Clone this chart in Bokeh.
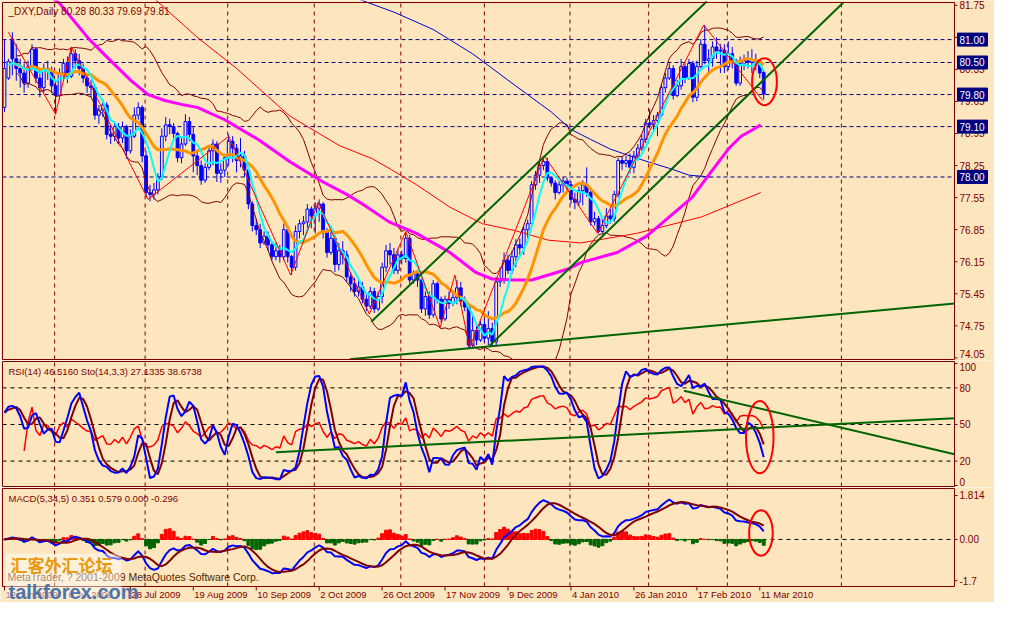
import numpy as np
from bokeh.plotting import figure
from bokeh.layouts import column
from bokeh.models import Range1d
from bokeh.core.properties import value
from bokeh.embed import file_html
from bokeh.resources import INLINE

# ---------------- data ----------------
opens = [79.52,80.16,81.01,80.58,80.37,80.27,80.05,80.41,80.79,80.16,
         79.95,80.37,80.33,79.99,79.78,80.27,80.48,80.20,80.69,80.54,
         80.37,80.16,79.99,79.95,79.35,79.46,79.57,78.93,78.89,79.10,
         78.85,79.10,78.57,78.89,79.35,79.52,78.46,77.66,77.62,77.72,
         78.00,78.89,79.14,79.10,78.95,78.42,78.72,79.21,78.93,78.46,
         78.25,77.93,78.21,78.57,78.72,78.08,78.15,78.42,78.78,78.63,
         78.36,78.46,78.15,77.41,76.94,76.85,76.56,76.71,76.52,76.26,
         76.39,76.26,76.85,76.26,76.03,76.81,76.98,77.02,77.30,77.15,
         77.32,77.41,76.81,76.35,76.66,76.09,76.39,76.30,75.82,75.67,
         75.50,75.60,75.33,75.18,75.50,75.12,75.39,76.03,76.39,76.30,
         75.96,76.30,76.22,76.66,75.75,75.88,75.75,75.12,75.39,74.99,
         75.67,75.33,74.90,75.33,75.24,75.37,75.58,75.29,75.16,74.33,
         74.65,74.44,74.78,74.48,74.69,74.40,75.71,75.75,76.18,75.96,
         76.26,76.52,76.45,76.85,76.98,77.83,78.04,78.25,78.34,77.98,
         77.87,77.66,77.83,77.91,77.83,77.51,77.45,77.70,77.83,77.66,
         77.02,77.09,76.81,76.94,77.15,77.09,77.62,78.36,78.30,78.36,
         78.21,78.46,78.63,78.82,79.18,79.14,79.23,79.35,79.95,80.16,
         80.37,79.78,79.99,80.41,80.16,80.48,79.74,80.41,80.90,80.54,
         80.58,80.84,80.75,80.77,80.41,80.69,80.54,80.05,80.48,80.54,
         80.50,80.54,80.46,80.28]
highs = [81.01,80.58,81.16,80.90,80.58,80.48,80.54,80.90,80.84,80.37,
         80.48,80.54,80.41,80.12,80.37,80.58,80.63,80.84,80.79,80.69,
         80.48,80.24,80.12,80.01,79.57,79.69,79.63,79.14,79.21,79.18,
         79.21,79.14,79.04,79.52,79.63,79.57,78.57,77.83,77.87,78.08,
         79.06,79.31,79.27,79.18,78.99,78.85,79.37,79.31,79.10,78.57,
         78.36,78.30,78.68,78.82,78.78,78.30,78.51,78.93,78.89,78.72,
         78.85,78.57,78.21,77.47,77.09,76.98,76.81,76.81,76.60,76.56,
         76.52,76.98,76.94,76.30,76.94,77.07,77.15,77.41,77.36,77.45,
         77.51,77.45,76.88,76.81,76.73,76.56,76.60,76.39,75.92,75.80,
         75.75,75.71,75.43,75.60,75.58,75.50,76.13,76.52,76.56,76.45,
         76.43,76.39,76.81,76.73,75.96,75.96,75.82,75.50,75.50,75.75,
         75.71,75.39,75.41,75.50,75.50,75.75,75.71,75.39,75.24,74.97,
         74.80,74.86,74.90,75.07,74.82,75.82,76.03,76.35,76.30,76.39,
         76.64,76.66,76.94,77.07,77.91,78.13,78.36,78.46,78.42,78.00,
         77.93,77.91,78.00,77.98,77.91,77.66,77.79,77.93,78.21,77.72,
         77.24,77.15,77.11,77.32,77.30,77.70,78.42,78.46,78.46,78.51,
         78.57,78.72,78.93,79.27,79.48,79.35,79.42,80.03,80.27,80.48,
         80.44,80.12,80.58,80.48,80.58,80.54,80.54,81.01,81.32,80.79,
         80.96,81.05,80.90,80.90,80.96,80.84,80.58,80.63,80.67,80.75,
         80.79,80.69,80.54,80.33]
lows = [79.42,80.12,80.22,80.10,79.95,79.84,79.95,80.33,80.05,79.74,
        79.84,80.12,79.84,79.37,79.69,80.16,80.05,80.16,80.37,80.22,
        80.05,79.84,79.74,79.25,79.16,79.31,78.82,78.72,78.78,78.72,
        78.74,78.40,78.51,78.85,79.25,78.32,77.55,77.47,77.51,77.62,
        77.93,78.78,78.93,78.85,78.32,78.30,78.68,78.78,78.10,78.04,
        77.83,77.87,78.15,78.25,77.89,77.87,78.00,78.25,78.32,78.10,
        78.21,78.00,77.30,76.81,76.73,76.45,76.52,76.39,76.18,76.18,
        76.13,76.18,76.13,75.86,75.96,76.66,76.73,76.81,76.88,76.77,
        77.02,76.66,76.24,76.30,75.92,75.96,76.09,75.71,75.50,75.39,
        75.39,75.24,75.07,75.12,75.03,75.07,75.24,75.92,76.09,75.88,
        75.88,76.09,76.13,75.67,75.67,75.60,75.03,74.97,74.90,74.93,
        75.24,74.82,74.86,75.12,75.18,75.22,75.18,75.07,74.27,74.27,
        74.33,74.40,74.38,74.33,74.31,74.33,75.60,75.67,75.88,75.88,
        76.03,76.30,76.30,76.60,76.90,77.72,77.87,78.15,77.91,77.79,
        77.51,77.62,77.66,77.66,77.41,77.30,77.36,77.38,77.57,76.94,
        76.94,76.77,76.77,76.88,76.98,77.02,77.55,78.15,78.21,78.08,
        78.08,78.36,78.57,78.74,79.06,78.99,78.89,79.31,79.84,80.12,
        79.69,79.74,79.91,80.05,80.12,79.63,79.65,80.37,80.46,80.24,
        80.41,80.58,80.27,80.27,80.33,80.37,79.99,79.99,80.33,80.37,
        80.27,80.33,80.16,79.69]
closes = [80.37,80.52,80.58,80.37,80.27,80.05,80.41,80.79,80.16,79.95,
          80.37,80.33,79.99,79.78,80.27,80.48,80.20,80.69,80.54,80.37,
          80.16,79.99,79.95,79.35,79.46,79.57,78.93,78.89,79.10,78.85,
          79.10,78.57,78.89,79.35,79.52,78.46,77.66,77.62,77.72,78.00,
          78.89,79.14,79.10,78.95,78.42,78.72,79.21,78.93,78.46,78.25,
          77.93,78.21,78.57,78.72,78.08,78.15,78.42,78.78,78.63,78.36,
          78.46,78.15,77.41,76.94,76.85,76.56,76.71,76.52,76.26,76.39,
          76.26,76.85,76.26,76.03,76.81,76.98,77.02,77.30,77.15,77.32,
          77.41,76.81,76.35,76.66,76.09,76.39,76.30,75.82,75.67,75.50,
          75.60,75.33,75.18,75.50,75.12,75.39,76.03,76.39,76.30,75.96,
          76.30,76.22,76.66,75.75,75.88,75.75,75.12,75.39,74.99,75.67,
          75.33,74.90,75.33,75.24,75.37,75.58,75.29,75.16,74.33,74.65,
          74.44,74.78,74.48,74.69,74.40,75.71,75.75,76.18,75.96,76.26,
          76.52,76.45,76.85,76.98,77.83,78.04,78.25,78.34,77.98,77.87,
          77.66,77.83,77.91,77.83,77.51,77.45,77.70,77.83,77.66,77.02,
          77.09,76.81,76.94,77.15,77.09,77.62,78.36,78.30,78.36,78.21,
          78.46,78.63,78.82,79.18,79.14,79.23,79.35,79.95,80.16,80.37,
          79.78,79.99,80.41,80.16,80.48,79.74,80.41,80.90,80.54,80.58,
          80.84,80.75,80.77,80.41,80.69,80.54,80.05,80.48,80.54,80.50,
          80.54,80.46,80.27,79.81]

date_ticks = [0, 16, 32, 48, 64, 80, 96, 112, 128, 144, 160, 176, 192]
date_labels = ["12 Jun 2009", "6 Jul 2009", "28 Jul 2009", "19 Aug 2009",
               "10 Sep 2009", "2 Oct 2009", "26 Oct 2009", "17 Nov 2009",
               "9 Dec 2009", "4 Jan 2010", "26 Jan 2010", "17 Feb 2010",
               "11 Mar 2010"]
grid_bars = [12.75, 35.75, 56.75, 78.75, 100.75, 122.0, 143.75, 163.75, 183.75, 212.75]
price_ticks = [74.05, 74.75, 75.45, 76.15, 76.85, 77.55, 78.25, 78.95,
               79.65, 80.35, 81.05, 81.75]
levels = [81.00, 80.50, 79.80, 79.10, 78.00]
rsi_ticks = [0, 20, 50, 80, 100]
rsi_levels = [20, 50, 80]
macd_ticks = [-1.7, 0.0, 1.814]
macd_tick_labels = ["-1.7", "0.00", "1.814"]

# long moving averages (bar index, price)
magenta_bars = [12, 14, 21.5, 26.5, 32.25, 36.5, 40.75, 45.75, 49, 56, 64.5, 72.75,
                81, 87, 91, 97.75, 104.75, 113.25, 119.75, 124, 129.75, 134,
                138.25, 143.25, 146.5, 155.75, 163.25, 169, 174.75, 179, 184,
                187.25, 190.75, 192.25]
magenta_vals = [81.92, 81.79, 81.01, 80.58, 80.10, 79.80, 79.67, 79.57, 79.52, 79.25,
                78.82, 78.32, 77.89, 77.62, 77.41, 77.02, 76.77, 76.35, 75.92, 75.77,
                75.75, 75.75, 75.86, 75.99, 76.13, 76.35, 76.71, 77.13, 77.55, 78.04,
                78.61, 78.89, 79.06, 79.14]
blue_bars = [89.5, 99, 109, 119, 129, 139, 144, 149, 154, 159, 164, 169, 174, 179.5]
blue_vals = [81.90, 81.60, 81.22, 80.69, 80.05, 79.42, 79.04, 78.82, 78.61, 78.46,
             78.32, 78.19, 78.04, 78.00]
red_bars = [37.75, 49, 59, 72.25, 77, 85.25, 93.5, 97.75, 104.75, 113.25, 121.5,
            129.75, 138.25, 146.5, 160.75, 177.25, 192.25]
red_vals = [81.92, 81.05, 80.37, 79.35, 79.10, 78.68, 78.40, 78.19, 77.83, 77.34,
            76.98, 76.83, 76.62, 76.56, 76.77, 77.13, 77.66]
zigzag_bars = [1, 13, 17, 36.5, 57, 72.75, 79.75, 92.75, 102, 110.75, 114.5,
               118.25, 137.25, 150.75, 177.75, 192.75]
zigzag_vals = [81.16, 79.37, 80.84, 77.51, 78.89, 75.86, 77.45, 75.01, 76.81, 74.71,
               75.86, 74.27, 78.46, 76.77, 81.32, 79.67]

# trend lines (bar index, value)
upper_channel_bars = [93.25, 178.5]
upper_channel_vals = [74.84, 81.83]
lower_channel_bars = [123.25, 213.25]
lower_channel_vals = [74.31, 81.81]
support_bars = [87.75, 241.5]
support_vals = [74.02, 75.24]
rsi_up_bars = [69, 241.5]
rsi_up_vals = [27.2, 55.2]
rsi_down_bars = [172.75, 241.5]
rsi_down_vals = [77.6, 25.6]

# ---------------- indicators ----------------
o = np.array(opens); h = np.array(highs); l = np.array(lows); c = np.array(closes)
n = len(c)
xs = np.arange(n)


def sma(a, p, minp=1):
    out = np.full(len(a), np.nan)
    for i in range(len(a)):
        w = a[max(0, i - p + 1):i + 1]
        w = w[~np.isnan(w)]
        if len(w) >= minp:
            out[i] = w.mean()
    return out


def ema(a, p):
    k = 2.0 / (p + 1)
    out = np.empty(len(a))
    out[0] = a[0]
    for i in range(1, len(a)):
        out[i] = out[i - 1] + k * (a[i] - out[i - 1])
    return out


ma5 = sma(c, 5, 2)
ma13 = sma(c, 13, 3)
bb_mid = sma(c, 20, 4)
bb_std = np.array([c[max(0, i - 19):i + 1].std() if i >= 3 else np.nan for i in range(n)])
bb_up = bb_mid + 2 * bb_std
bb_dn = bb_mid - 2 * bb_std

d = np.diff(c, prepend=c[0])
g = np.clip(d, 0, None)
ls = np.clip(-d, 0, None)
ag = np.zeros(n); al = np.zeros(n)
for i in range(1, n):
    if i <= 14:
        ag[i] = g[1:i + 1].mean(); al[i] = ls[1:i + 1].mean()
    else:
        ag[i] = (ag[i - 1] * 13 + g[i]) / 14
        al[i] = (al[i - 1] * 13 + ls[i]) / 14
rsi = np.where(al > 0, 100 - 100 / (1 + ag / np.where(al > 0, al, 1)), 100.0)
rsi[:5] = np.nan

ll = np.array([l[max(0, i - 13):i + 1].min() for i in range(n)])
hh = np.array([h[max(0, i - 13):i + 1].max() for i in range(n)])
num = c - ll
den = hh - ll
stk = np.array([num[max(0, i - 2):i + 1].sum() / max(den[max(0, i - 2):i + 1].sum(), 1e-9) * 100
                for i in range(n)])
std_ = sma(stk, 3)

macd = ema(c, 5) - ema(c, 34)
macd_sig = sma(macd, 5)
macd_hist = macd - macd_sig

# ---------------- layout helpers ----------------
BG = "#FDE6BD"
MAROON = "#800000"
NAVY = "#000080"
FONT = "Liberation Sans"
W = 994
LEFT, FRAME_W, RIGHT = 2, 952, 40
X0, X1 = -0.5, 241.5
ppb = FRAME_W / (X1 - X0)
x_range = Range1d(X0 - LEFT / ppb, X1 + RIGHT / ppb)


def panel(height, vmin, vmax, top_px, bottom_px):
    ppy = (vmax - vmin) / (height - top_px - bottom_px)
    yr = Range1d(vmin - bottom_px * ppy, vmax + top_px * ppy)
    p = figure(width=W, height=height, x_range=x_range, y_range=yr,
               output_backend="svg", toolbar_location=None,
               x_axis_location=None, y_axis_location=None, min_border=0)
    p.min_border_left = p.min_border_right = p.min_border_top = p.min_border_bottom = 0
    p.outline_line_color = None
    p.background_fill_color = BG
    p.border_fill_color = BG
    p.grid.visible = False
    p.segment(x0=grid_bars, x1=grid_bars, y0=[vmin] * len(grid_bars),
              y1=[vmax] * len(grid_bars), line_color=MAROON, line_dash="4 4", line_width=1)
    return p, ppy


def txt(p, x, y, texts, size="10px", color=MAROON, align="left", baseline="middle",
        font=FONT, style="normal"):
    p.text(x=x, y=y, text=texts, text_font=value(font), text_font_size=value(size),
           text_color=color, text_align=align, text_baseline=baseline,
           text_font_style=style)


def frame_box(p, vmin, vmax):
    p.quad(left=[X0], right=[X1], bottom=[vmin], top=[vmax], fill_alpha=0,
           line_color=MAROON, line_width=1)


def right_axis(p, ppy, ticks, labels, baselines=None):
    k = len(ticks)
    p.segment(x0=[X1] * k, x1=[X1 + 3 / ppb] * k, y0=ticks, y1=ticks,
              line_color=MAROON, line_width=1)
    if baselines is None:
        baselines = ["middle"] * k
    for t, s, b in zip(ticks, labels, baselines):
        txt(p, [X1 + 5 / ppb], [t], [s], baseline=b)


# ---------------- main price panel ----------------
P1_MIN, P1_MAX = 74.015, 81.81
p1, ppy1 = panel(360, P1_MIN, P1_MAX, 2, 1)
p1.segment(x0=[X0] * len(levels), x1=[X1] * len(levels), y0=levels, y1=levels,
           line_color=NAVY, line_dash="4 3", line_width=1)

inc = c >= o
p1.segment(xs, l, xs, h, line_color="#0000FF", line_width=1)
p1.vbar(xs[inc], 0.7, o[inc], c[inc], fill_color=BG, line_color="#0000FF", line_width=1)
p1.vbar(xs[~inc], 0.7, o[~inc], c[~inc], fill_color="#0000FF", line_color="#0000FF", line_width=1)

p1.line(xs, bb_up, line_color=MAROON, line_width=1)
p1.line(xs, bb_dn, line_color=MAROON, line_width=1)
p1.line(red_bars, red_vals, line_color="#FF0000", line_width=1)
p1.line(blue_bars, blue_vals, line_color="#0000CD", line_width=1)
p1.line(magenta_bars, magenta_vals, line_color="#FF00FF", line_width=3)
p1.line(xs, ma13, line_color="#FF9400", line_width=3)
p1.line(xs, ma5, line_color="#00FFFF", line_width=2)
p1.line(zigzag_bars, zigzag_vals, line_color="#FF0000", line_width=1)
for bx, bv in [(upper_channel_bars, upper_channel_vals),
               (lower_channel_bars, lower_channel_vals),
               (support_bars, support_vals)]:
    p1.line(bx, bv, line_color="#006400", line_width=2)

p1.ellipse(x=[n - 1 + 0.2], y=[(h[-1] + l[-1]) / 2 + 0.07], width=[6.3],
           height=[(h[-1] - l[-1]) * 1.6], fill_alpha=0, line_color="#FF0000", line_width=2)

# cover anything drawn beyond the right edge of the price area
p1.quad(left=[X1], right=[x_range.end], bottom=[p1.y_range.start], top=[p1.y_range.end],
        fill_color=BG, line_color=None)
frame_box(p1, P1_MIN, P1_MAX)
pb = ["middle"] * len(price_ticks)
pb[0] = "bottom"
right_axis(p1, ppy1, price_ticks, [f"{t:.2f}" for t in price_ticks], pb)
p1.rect(x=[X1 + 18 / ppb] * len(levels), y=levels, width=30, height=13,
        width_units="screen", height_units="screen", fill_color=NAVY, line_color=NAVY)
txt(p1, [X1 + 5 / ppb] * len(levels), levels, [f"{lv:.2f}" for lv in levels], color="white")
txt(p1, [X0 + 6 / ppb], [P1_MAX - 3 * ppy1],
    [f"_DXY,Daily  {o[-1]:.2f} {h[-1]:.2f} {l[-1]:.2f} {c[-1]:.2f}"], baseline="top")

# ---------------- RSI / Stochastic panel ----------------
P2_MIN, P2_MAX = -0.8, 101.6
p2, ppy2 = panel(127, P2_MIN, P2_MAX, 1, 1)
p2.segment(x0=[X0] * 3, x1=[X1] * 3, y0=rsi_levels, y1=rsi_levels,
           line_color="black", line_dash="4 4", line_width=1)
p2.line(xs, rsi, line_color="#FF0000", line_width=1.5)
p2.line(xs, std_, line_color=MAROON, line_width=2)
p2.line(xs, stk, line_color="#0000FF", line_width=2)
p2.line(rsi_up_bars, rsi_up_vals, line_color="#006400", line_width=2)
p2.line(rsi_down_bars, rsi_down_vals, line_color="#006400", line_width=2)
last = np.array([rsi[-1], stk[-1], std_[-1], rsi[-3], stk[-3]])
p2.ellipse(x=[n - 1 - 1.0], y=[(last.max() + last.min()) / 2], width=[7],
           height=[(last.max() - last.min()) * 1.5 + 10], fill_alpha=0,
           line_color="#FF0000", line_width=2)
p2.quad(left=[X1], right=[x_range.end], bottom=[p2.y_range.start], top=[p2.y_range.end],
        fill_color=BG, line_color=None)
frame_box(p2, P2_MIN, P2_MAX)
right_axis(p2, ppy2, rsi_ticks, [str(t) for t in rsi_ticks],
           ["bottom", "middle", "middle", "middle", "top"])
txt(p2, [X0 + 6 / ppb], [P2_MAX - 4 * ppy2],
    ["RSI(14) 46.5160  Sto(14,3,3) 27.1335 38.6738"], size="9.5px", baseline="top")

# ---------------- MACD panel ----------------
P3_MIN, P3_MAX = -1.94, 2.10
p3, ppy3 = panel(115, P3_MIN, P3_MAX, 1, 16)
p3.segment(x0=[X0], x1=[X1], y0=[0], y1=[0], line_color="black", line_dash="4 4", line_width=1)
hist_colors = ["#FF0000" if v >= 0 else "#006400" for v in macd_hist]
p3.vbar(xs, 0.75, macd_hist, 0, fill_color=hist_colors, line_color=hist_colors)
p3.line(xs, macd, line_color="#0000FF", line_width=2)
p3.line(xs, macd_sig, line_color=MAROON, line_width=2)
mv = np.array([macd[-1], macd_sig[-1], macd_hist[-1]])
p3.ellipse(x=[n - 1 - 0.7], y=[(mv.max() + mv.min()) / 2 + 0.1], width=[6],
           height=[(mv.max() - mv.min()) * 2.3], fill_alpha=0,
           line_color="#FF0000", line_width=2)
frame_box(p3, P3_MIN, P3_MAX)
right_axis(p3, ppy3, macd_ticks, macd_tick_labels)
txt(p3, [X0 + 6 / ppb], [P3_MAX - 4 * ppy3],
    ["MACD(5,34,5) 0.351 0.579 0.000 -0.296"], size="9.5px", baseline="top")
# date axis
k = len(date_ticks)
p3.segment(x0=date_ticks, x1=date_ticks, y0=[P3_MIN] * k, y1=[P3_MIN - 4 * ppy3] * k,
           line_color=MAROON, line_width=1)
txt(p3, [t + 1 / ppb for t in date_ticks], [P3_MIN - 2 * ppy3] * k, date_labels,
    size="9.5px", baseline="top")
# copyright and watermark
top3 = p3.y_range.end
txt(p3, [X0 + 5 / ppb], [top3 - 89 * ppy3],
    ["MetaTrader, ? 2001-2009 MetaQuotes Software Corp."], size="10.5px", color="#5A1E00")
p3.rect(x=[x_range.start + 63 / ppb], y=[top3 - 89 * ppy3], width=116, height=46,
        width_units="screen", height_units="screen", fill_color="white",
        fill_alpha=0.45, line_color=None)
txt(p3, [x_range.start + 10 / ppb], [top3 - 77 * ppy3], ["汇客外汇论坛"], size="17px",
    color="#E89A10", font="Noto Sans CJK SC", style="bold")
txt(p3, [x_range.start + 8 / ppb], [top3 - 104 * ppy3], ["talkforex.com"], size="20px",
    color="#4F74A8", style="bold")

layout = column(p1, p2, p3, spacing=0)
open("out.html", "w").write(file_html(layout, INLINE))
